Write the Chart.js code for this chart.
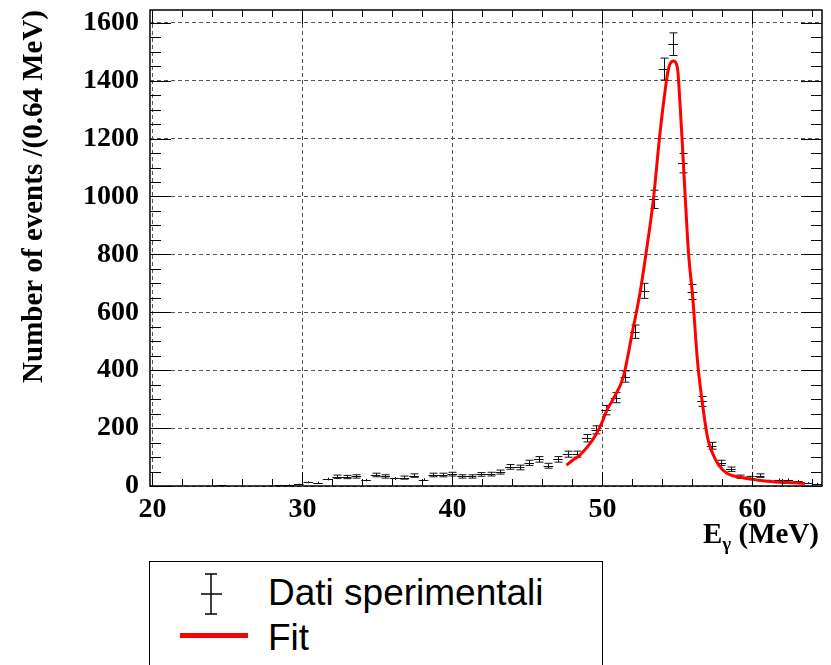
<!DOCTYPE html>
<html>
<head>
<meta charset="utf-8">
<script src="https://cdn.jsdelivr.net/npm/chart.js@4.4.1/dist/chart.umd.min.js"></script>
<style>
  body { margin: 0; background: #fff; }
  #wrap { position: relative; width: 831px; height: 665px; overflow: hidden; }
  #xtitle {
    position: absolute; right: 12px; top: 519px;
    font: bold 29px 'Liberation Serif', 'Times New Roman', serif; line-height: 29px;
    color: #000; white-space: nowrap;
  }
  #xtitle sub { font-size: 19px; vertical-align: -7px; line-height: 0; }
  #legend {
    position: absolute; left: 149px; top: 561px; width: 452px; height: 140px;
    border: 1.5px solid #000; background: #fff;
  }
  .ltext {
    position: absolute; left: 118px;
    font: 37px 'Liberation Sans', Arial, sans-serif; line-height: 37px; color: #000;
    white-space: nowrap;
  }
  #fitline { position: absolute; left: 30px; top: 71px; width: 68px; height: 5px; background: #ff0000; }
</style>
</head>
<body>
<div id="wrap">
  <canvas id="histo" width="831" height="665"></canvas>
  <div id="xtitle">E<sub>γ</sub> (MeV)</div>
  <div id="legend">
    <svg width="40" height="50" style="position:absolute;left:43px;top:10px">
      <g stroke="#000" stroke-width="1.5" fill="none">
        <line x1="18" y1="2" x2="18" y2="42"/>
        <line x1="12" y1="2" x2="24" y2="2"/>
        <line x1="12" y1="42" x2="24" y2="42"/>
        <line x1="8" y1="22" x2="29" y2="22"/>
      </g>
    </svg>
    <div class="ltext" style="top:12px">Dati sperimentali</div>
    <div id="fitline"></div>
    <div class="ltext" style="top:57px">Fit</div>
  </div>
</div>
<script>
// --- DATI: istogramma (bin da 0.64 MeV, solo bin non vuoti) ---
const BIN_HALF = 0.32;
const energies = [
  22.08, 24.64, 27.84, 28.48, 29.12, 29.76,
  30.40, 31.04, 31.68, 32.32, 32.96, 33.60, 34.24, 34.88, 35.52, 36.16,
  36.80, 37.44, 38.08, 38.72, 39.36, 40.00, 40.64, 41.28, 41.92, 42.56,
  43.20, 43.84, 44.48, 45.12, 45.76, 46.40, 47.04, 47.68, 48.32, 48.96,
  49.60, 50.24, 50.88, 51.52, 52.16, 52.80, 53.44, 54.08, 54.72, 55.36,
  56.00, 56.64, 57.28, 57.92, 58.56, 59.20, 59.84, 60.48, 61.12, 61.76,
  62.40, 63.04, 63.68, 64.32
];
const counts = [
  1, 2, 1, 2, 4, 6,
  13, 12, 24, 32, 31, 33, 20, 38, 33, 26,
  29, 36, 22, 38, 38, 41, 33, 33, 40, 41,
  48, 66, 64, 80, 92, 70, 92, 110, 110, 165,
  194, 262, 305, 378, 533, 674, 990, 1440, 1526, 1115,
  670, 292, 139, 80, 58, 32, 28, 36, 18, 22,
  22, 17, 10, 8
];
const errors = [
  1, 1.4, 1, 1.4, 2, 2.4,
  3.6, 3.5, 4.9, 5.7, 5.6, 5.7, 4.5, 6.2, 5.7, 5.1,
  5.4, 6, 4.7, 6.2, 6.2, 6.4, 5.7, 5.7, 6.3, 6.4,
  6.9, 8.1, 8, 8.9, 9.6, 8.4, 9.6, 10.5, 10.5, 12.8,
  13.9, 16.2, 17.5, 19.4, 23.1, 26, 31.5, 37.9, 39.1, 33.4,
  25.9, 17.1, 11.8, 8.9, 7.6, 5.7, 5.3, 6, 4.2, 4.7,
  4.7, 4.1, 3.2, 2.8
];

// --- Curva di fit ---
const fitE = [
  47.6, 48.0, 48.5, 49.0, 49.4, 49.9, 50.3, 50.75, 51.4, 52.0, 52.5, 52.9,
  53.4, 53.8, 54.1, 54.4, 54.72, 55.0, 55.16, 55.31, 55.53, 55.75, 56.0,
  56.36, 56.64, 57.0, 57.3, 57.76, 58.3, 59.2, 60.3, 61.4, 62.75, 63.5
];
const fitN = [
  72, 88, 107, 135, 163, 211, 262, 303, 378, 532, 665, 800,
  990, 1199, 1333, 1440, 1468, 1445, 1333, 1199, 990, 798, 665,
  420, 297, 170, 118, 72, 44, 30, 21, 15, 11, 9
];

// --- Assi ---
const X_MIN = 19.84, X_MAX = 64.64;
const Y_MIN = 0, Y_MAX = 1644;
const xTicks = [20, 30, 40, 50, 60];
const yTicks = [0, 200, 400, 600, 800, 1000, 1200, 1400, 1600];
const X_MINOR = 2, Y_MINOR = 50;

const SERIF = "'Liberation Serif', 'Times New Roman', serif";

function line(ctx, x1, y1, x2, y2) {
  ctx.beginPath(); ctx.moveTo(x1, y1); ctx.lineTo(x2, y2); ctx.stroke();
}

// barre d'errore stile ROOT (E1) + cornice e tacche
const rootStyle = {
  id: 'rootStyle',
  beforeDatasetsDraw(chart) {
    const { ctx, chartArea: a, scales: { x, y } } = chart;
    ctx.save();
    ctx.beginPath(); ctx.rect(a.left, a.top, a.right - a.left, a.bottom - a.top); ctx.clip();
    ctx.strokeStyle = '#111'; ctx.lineWidth = 1;
    energies.forEach((e, i) => {
      const xc = Math.round(x.getPixelForValue(e)) + 0.5;
      const xl = x.getPixelForValue(e - BIN_HALF), xr = x.getPixelForValue(e + BIN_HALF);
      const yc = Math.round(y.getPixelForValue(counts[i])) + 0.5;
      const yt = y.getPixelForValue(counts[i] + errors[i]);
      const yb = y.getPixelForValue(counts[i] - errors[i]);
      line(ctx, xl, yc, xr, yc);
      line(ctx, xc, yt, xc, yb);
      if (yb - yt > 3) {
        line(ctx, xc - 4, yt, xc + 4, yt);
        line(ctx, xc - 4, yb, xc + 4, yb);
      }
    });
    ctx.restore();
  },
  afterDraw(chart) {
    const { ctx, chartArea: a, scales: { x, y } } = chart;
    ctx.save();
    ctx.strokeStyle = '#000'; ctx.lineWidth = 1;
    for (let v = xTicks[0]; v <= X_MAX; v += X_MINOR) {
      const px = Math.round(x.getPixelForValue(v)) + 0.5;
      const len = xTicks.includes(v) ? 14 : 7;
      line(ctx, px, a.bottom, px, a.bottom - len);
      line(ctx, px, a.top, px, a.top + len);
    }
    for (let v = Y_MIN; v <= Y_MAX; v += Y_MINOR) {
      const py = Math.round(y.getPixelForValue(v)) + 0.5;
      const len = yTicks.includes(v) ? 21 : 11;
      line(ctx, a.left, py, a.left + len, py);
      line(ctx, a.right, py, a.right - len, py);
    }
    ctx.lineWidth = 1.5;
    ctx.strokeRect(a.left, a.top, a.right - a.left, a.bottom - a.top);
    ctx.restore();
  }
};

new Chart(document.getElementById('histo'), {
  type: 'scatter',
  data: {
    datasets: [{
      label: 'Fit',
      type: 'line',
      data: fitE.map((e, i) => ({ x: e, y: fitN[i] })),
      borderColor: '#ff0000',
      borderWidth: 3,
      pointRadius: 0,
      fill: false,
      cubicInterpolationMode: 'monotone'
    }]
  },
  options: {
    responsive: false,
    animation: false,
    layout: { padding: { top: 10, right: 9, left: 0, bottom: 0 } },
    plugins: { legend: { display: false }, tooltip: { enabled: false } },
    scales: {
      x: {
        type: 'linear', min: X_MIN, max: X_MAX,
        afterBuildTicks: s => { s.ticks = xTicks.map(v => ({ value: v })); },
        afterFit: s => { s.height = 179; s.paddingLeft = 0; s.paddingRight = 0; },
        grid: { color: '#555', lineWidth: 1, drawTicks: false },
        border: { display: false, dash: [4, 3] },
        ticks: { color: '#000', padding: 7, autoSkip: false, maxRotation: 0,
                 callback: v => String(v),
                 font: { family: SERIF, size: 28, weight: 'bold' } }
      },
      y: {
        type: 'linear', min: Y_MIN, max: Y_MAX,
        afterBuildTicks: s => { s.ticks = yTicks.map(v => ({ value: v })); },
        afterFit: s => { s.width = 150; s.paddingTop = 0; s.paddingBottom = 0; },
        grid: { color: '#555', lineWidth: 1, drawTicks: false },
        border: { display: false, dash: [4, 3] },
        ticks: { color: '#000', padding: 11, autoSkip: false,
                 callback: v => String(v),
                 font: { family: SERIF, size: 28, weight: 'bold' } },
        title: {
          display: true, text: 'Number of events /(0.64 MeV)', align: 'end', color: '#000',
          padding: { top: 17, bottom: 0 },
          font: { family: SERIF, size: 29, weight: 'bold' }
        }
      }
    }
  },
  plugins: [rootStyle]
});
</script>
</body>
</html>
